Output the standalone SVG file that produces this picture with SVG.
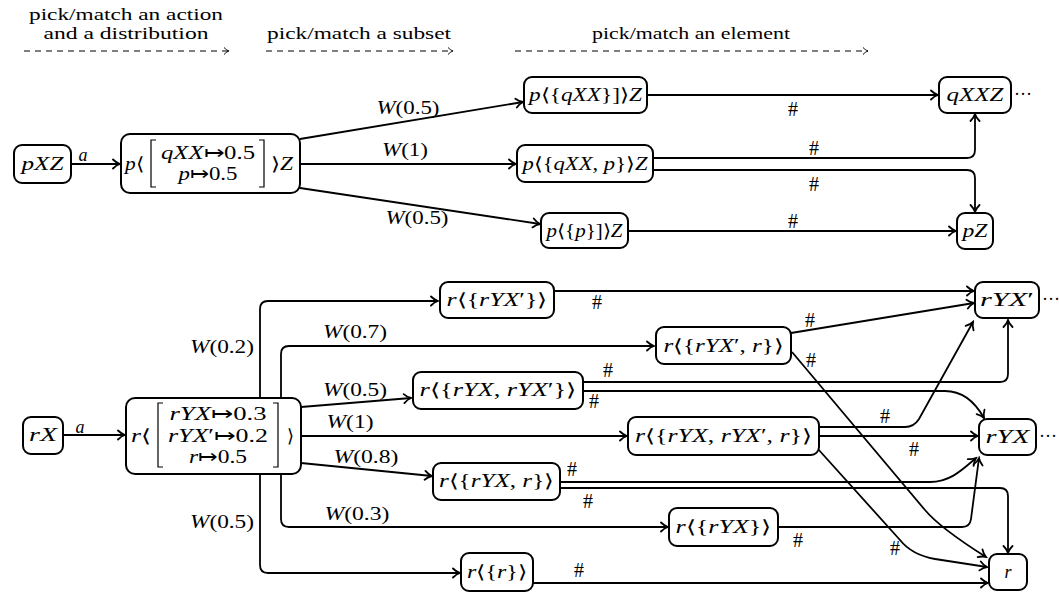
<svg xmlns="http://www.w3.org/2000/svg" width="1059" height="594" viewBox="0 0 1059 594">
<style>
.n{fill:#fff;stroke:#000;stroke-width:2}
.t{font-family:'Liberation Serif','Times New Roman',serif;font-size:18px;font-style:italic;text-anchor:middle;fill:#000}
.s{font-family:'Liberation Serif','Times New Roman',serif;font-size:18px;font-style:italic;fill:#000}
.u{font-style:normal}
.k{font-family:'Liberation Serif','Times New Roman',serif;font-size:20px;text-anchor:middle;fill:#000}
.h{font-family:'Liberation Serif','Times New Roman',serif;font-size:17px;text-anchor:middle;fill:#000}
.e{fill:none;stroke:#000;stroke-width:1.8}
.d{fill:none;stroke:#000;stroke-width:1;stroke-dasharray:6 5}
.b{fill:none;stroke:#000;stroke-width:1.2}
</style>
<defs>
<marker id="ar" markerUnits="userSpaceOnUse" viewBox="-10 -6 12 12" refX="0" refY="0" markerWidth="12" markerHeight="12" orient="auto">
<path d="M-7,-4.5 C-4.5,-2 -2,-0.6 0,0 C-2,0.6 -4.5,2 -7,4.5" fill="none" stroke="#000" stroke-width="1.8" stroke-linecap="round"/>
</marker>
<marker id="ad" markerUnits="userSpaceOnUse" viewBox="-8 -5 10 10" refX="0" refY="0" markerWidth="10" markerHeight="10" orient="auto">
<path d="M-5,-3.5 C-3,-1.5 -1.5,-0.5 0,0 C-1.5,0.5 -3,1.5 -5,3.5" fill="none" stroke="#000" stroke-width="1"/>
</marker>
</defs>
<g id="header">
<text class="h" x="126" y="20" textLength="194" lengthAdjust="spacingAndGlyphs">pick/match an action</text>
<text class="h" x="126" y="39" textLength="165" lengthAdjust="spacingAndGlyphs">and a distribution</text>
<text class="h" x="359" y="39" textLength="184" lengthAdjust="spacingAndGlyphs">pick/match a subset</text>
<text class="h" x="691" y="39" textLength="198" lengthAdjust="spacingAndGlyphs">pick/match an element</text>
<path class="d" d="M24,51 L229,51" marker-end="url(#ad)"/>
<path class="d" d="M266,51 L453,51" marker-end="url(#ad)"/>
<path class="d" d="M515,51 L868,51" marker-end="url(#ad)"/>
</g>

<g id="connectors">
<path class="e" d="M71,164 L120,164" marker-end="url(#ar)"/>
<text class="t" x="83" y="161">a</text>
<path class="e" d="M300,139 L523,102" marker-end="url(#ar)"/>
<text class="t" x="408" y="114" textLength="63" lengthAdjust="spacingAndGlyphs">W<tspan class="u">(0.5)</tspan></text>
<path class="e" d="M300,164 L516,164" marker-end="url(#ar)"/>
<text class="t" x="405" y="156" textLength="46" lengthAdjust="spacingAndGlyphs">W<tspan class="u">(1)</tspan></text>
<path class="e" d="M300,188 L540,224" marker-end="url(#ar)"/>
<text class="t" x="417" y="224" textLength="63" lengthAdjust="spacingAndGlyphs">W<tspan class="u">(0.5)</tspan></text>

<path class="e" d="M647,95 L938,95" marker-end="url(#ar)"/>
<text class="k" x="793" y="116">#</text>
<path class="e" d="M653,158 L967,158 Q975,158 975,150 L975,114" marker-end="url(#ar)"/>
<text class="k" x="814" y="155">#</text>
<path class="e" d="M653,170 L967,170 Q975,170 975,178 L975,212" marker-end="url(#ar)"/>
<text class="k" x="814" y="191">#</text>
<path class="e" d="M628,231 L956,231" marker-end="url(#ar)"/>
<text class="k" x="793" y="228">#</text>

<path class="e" d="M63,435 L125,435" marker-end="url(#ar)"/>
<text class="t" x="80" y="433">a</text>
<path class="e" d="M260,398 L260,309 Q260,301 268,301 L438,301" marker-end="url(#ar)"/>
<text class="t" x="222" y="353" textLength="64" lengthAdjust="spacingAndGlyphs">W<tspan class="u">(0.2)</tspan></text>
<path class="e" d="M281,398 L281,354 Q281,346 289,346 L654,346" marker-end="url(#ar)"/>
<text class="t" x="355" y="338" textLength="64" lengthAdjust="spacingAndGlyphs">W<tspan class="u">(0.7)</tspan></text>
<path class="e" d="M301,407 L411,398" marker-end="url(#ar)"/>
<text class="t" x="355" y="396" textLength="64" lengthAdjust="spacingAndGlyphs">W<tspan class="u">(0.5)</tspan></text>
<path class="e" d="M301,436 L627,436" marker-end="url(#ar)"/>
<text class="t" x="350" y="428" textLength="47" lengthAdjust="spacingAndGlyphs">W<tspan class="u">(1)</tspan></text>
<path class="e" d="M301,463 L432,476" marker-end="url(#ar)"/>
<text class="t" x="366" y="463" textLength="65" lengthAdjust="spacingAndGlyphs">W<tspan class="u">(0.8)</tspan></text>
<path class="e" d="M281,474 L281,519 Q281,527 289,527 L668,527" marker-end="url(#ar)"/>
<text class="t" x="357" y="520" textLength="65" lengthAdjust="spacingAndGlyphs">W<tspan class="u">(0.3)</tspan></text>
<path class="e" d="M260,474 L260,565 Q260,573 268,573 L460,573" marker-end="url(#ar)"/>
<text class="t" x="222" y="528" textLength="64" lengthAdjust="spacingAndGlyphs">W<tspan class="u">(0.5)</tspan></text>

<path class="e" d="M554,291 L974,291" marker-end="url(#ar)"/>
<text class="k" x="597" y="309">#</text>
<path class="e" d="M791,333 L974,303" marker-end="url(#ar)"/>
<text class="k" x="810" y="327">#</text>
<path class="e" d="M792,352 L925,510 Q940,528 986,557" marker-end="url(#ar)"/>
<text class="k" x="811" y="367">#</text>
<path class="e" d="M583,382 L1000,382 Q1008,382 1008,374 L1008,320" marker-end="url(#ar)"/>
<text class="k" x="608" y="377">#</text>
<path class="e" d="M583,391 L945,391 C962,391 975,402 984,418" marker-end="url(#ar)"/>
<text class="k" x="594" y="408">#</text>
<path class="e" d="M819,427 L905,427 Q914,427 919,419 L973,322" marker-end="url(#ar)"/>
<text class="k" x="885" y="423">#</text>
<path class="e" d="M819,436 L978,436" marker-end="url(#ar)"/>
<text class="k" x="914" y="456">#</text>
<path class="e" d="M818,449 L900,540 Q912,555 935,559 L987,567" marker-end="url(#ar)"/>
<text class="k" x="895" y="555">#</text>
<path class="e" d="M560,482 L930,482 C950,482 962,470 976,458" marker-end="url(#ar)"/>
<text class="k" x="572" y="476">#</text>
<path class="e" d="M560,488 L1000,488 Q1008,488 1008,496 L1008,553" marker-end="url(#ar)"/>
<text class="k" x="588" y="508">#</text>
<path class="e" d="M778,527 L962,527 Q970,527 971,519 L979,458" marker-end="url(#ar)"/>
<text class="k" x="798" y="547">#</text>
<path class="e" d="M533,583 L988,583" marker-end="url(#ar)"/>
<text class="k" x="579" y="577">#</text>
</g>

<g id="pXZ"><rect class="n" x="14" y="145" width="57" height="38" rx="8"/><text class="t" x="42.5" y="170" textLength="42" lengthAdjust="spacingAndGlyphs">pXZ</text></g>
<g id="pDist"><rect class="n" x="121" y="134" width="179" height="59" rx="9"/>
<text class="s" x="125" y="170" textLength="19" lengthAdjust="spacingAndGlyphs">p<tspan class="u">⟨</tspan></text>
<path class="b" d="M156,140 L151,140 L151,187 L156,187 M259,140 L264,140 L264,187 L259,187"/>
<text class="t" x="208" y="159" textLength="94" lengthAdjust="spacingAndGlyphs">qXX<tspan class="u">↦0.5</tspan></text>
<text class="t" x="208" y="180" textLength="59" lengthAdjust="spacingAndGlyphs">p<tspan class="u">↦0.5</tspan></text>
<text class="s" x="271" y="170" textLength="22" lengthAdjust="spacingAndGlyphs"><tspan class="u">⟩</tspan>Z</text>
</g>
<g id="pqXX"><rect class="n" x="524" y="77" width="123" height="36" rx="8"/><text class="t" x="585.5" y="101" textLength="113" lengthAdjust="spacingAndGlyphs">p<tspan class="u">⟨{</tspan>qXX<tspan class="u">}]⟩</tspan>Z</text></g>
<g id="pqXXp"><rect class="n" x="517" y="145" width="136" height="37" rx="8"/><text class="t" x="585" y="170" textLength="125" lengthAdjust="spacingAndGlyphs">p<tspan class="u">⟨{</tspan>qXX<tspan class="u">, </tspan>p<tspan class="u">}⟩</tspan>Z</text></g>
<g id="pp"><rect class="n" x="541" y="213" width="87" height="35" rx="8"/><text class="t" x="584.5" y="237" textLength="76" lengthAdjust="spacingAndGlyphs">p<tspan class="u">⟨{</tspan>p<tspan class="u">}]⟩</tspan>Z</text></g>
<g id="qXXZ"><rect class="n" x="939" y="77" width="72" height="36" rx="8"/><text class="t" x="975" y="101" textLength="57" lengthAdjust="spacingAndGlyphs">qXXZ</text><text class="s u" x="1014" y="100">···</text></g>
<g id="pZ"><rect class="n" x="957" y="213" width="36" height="36" rx="8"/><text class="t" x="975" y="237" textLength="25" lengthAdjust="spacingAndGlyphs">pZ</text></g>

<g id="rX"><rect class="n" x="23" y="417" width="40" height="37" rx="8"/><text class="t" x="43" y="441" textLength="28" lengthAdjust="spacingAndGlyphs">rX</text></g>
<g id="rDist"><rect class="n" x="126" y="398" width="175" height="76" rx="9"/>
<text class="s" x="131" y="442" textLength="20" lengthAdjust="spacingAndGlyphs">r<tspan class="u">⟨</tspan></text>
<path class="b" d="M163,403 L158,403 L158,467 L163,467 M273,403 L278,403 L278,467 L273,467"/>
<text class="t" x="218" y="420" textLength="97" lengthAdjust="spacingAndGlyphs">rYX<tspan class="u">↦0.3</tspan></text>
<text class="t" x="218" y="442" textLength="100" lengthAdjust="spacingAndGlyphs">rYX<tspan class="u">′↦0.2</tspan></text>
<text class="t" x="218" y="463" textLength="58" lengthAdjust="spacingAndGlyphs">r<tspan class="u">↦0.5</tspan></text>
<text class="t u" x="290" y="442">⟩</text>
</g>
<g id="rS1"><rect class="n" x="440" y="282" width="114" height="36" rx="8"/><text class="t" x="497" y="306" textLength="101" lengthAdjust="spacingAndGlyphs">r<tspan class="u">⟨{</tspan>rYX<tspan class="u">′}⟩</tspan></text></g>
<g id="rS2"><rect class="n" x="656" y="327" width="135" height="37" rx="8"/><text class="t" x="723.5" y="352" textLength="120" lengthAdjust="spacingAndGlyphs">r<tspan class="u">⟨{</tspan>rYX<tspan class="u">′, </tspan>r<tspan class="u">}⟩</tspan></text></g>
<g id="rS3"><rect class="n" x="413" y="372" width="170" height="37" rx="8"/><text class="t" x="498" y="396" textLength="157" lengthAdjust="spacingAndGlyphs">r<tspan class="u">⟨{</tspan>rYX<tspan class="u">, </tspan>rYX<tspan class="u">′}⟩</tspan></text></g>
<g id="rS4"><rect class="n" x="628" y="417" width="191" height="38" rx="8"/><text class="t" x="723.5" y="442" textLength="177" lengthAdjust="spacingAndGlyphs">r<tspan class="u">⟨{</tspan>rYX<tspan class="u">, </tspan>rYX<tspan class="u">′, </tspan>r<tspan class="u">}⟩</tspan></text></g>
<g id="rS5"><rect class="n" x="433" y="463" width="127" height="37" rx="8"/><text class="t" x="496.5" y="487" textLength="115" lengthAdjust="spacingAndGlyphs">r<tspan class="u">⟨{</tspan>rYX<tspan class="u">, </tspan>r<tspan class="u">}⟩</tspan></text></g>
<g id="rS6"><rect class="n" x="669" y="508" width="109" height="38" rx="8"/><text class="t" x="723.5" y="533" textLength="96" lengthAdjust="spacingAndGlyphs">r<tspan class="u">⟨{</tspan>rYX<tspan class="u">}⟩</tspan></text></g>
<g id="rS7"><rect class="n" x="461" y="553" width="72" height="38" rx="8"/><text class="t" x="497" y="578" textLength="60" lengthAdjust="spacingAndGlyphs">r<tspan class="u">⟨{</tspan>r<tspan class="u">}⟩</tspan></text></g>
<g id="rYXp"><rect class="n" x="975" y="282" width="64" height="36" rx="8"/><text class="t" x="1007" y="306" textLength="54" lengthAdjust="spacingAndGlyphs">rYX<tspan class="u">′</tspan></text><text class="s u" x="1042" y="305">···</text></g>
<g id="rYX"><rect class="n" x="979" y="419" width="57" height="36" rx="8"/><text class="t" x="1007.5" y="443" textLength="44" lengthAdjust="spacingAndGlyphs">rYX</text><text class="s u" x="1039" y="442">···</text></g>
<g id="r"><rect class="n" x="989" y="554" width="38" height="36" rx="8"/><text class="t" x="1008" y="578">r</text></g>
</svg>
